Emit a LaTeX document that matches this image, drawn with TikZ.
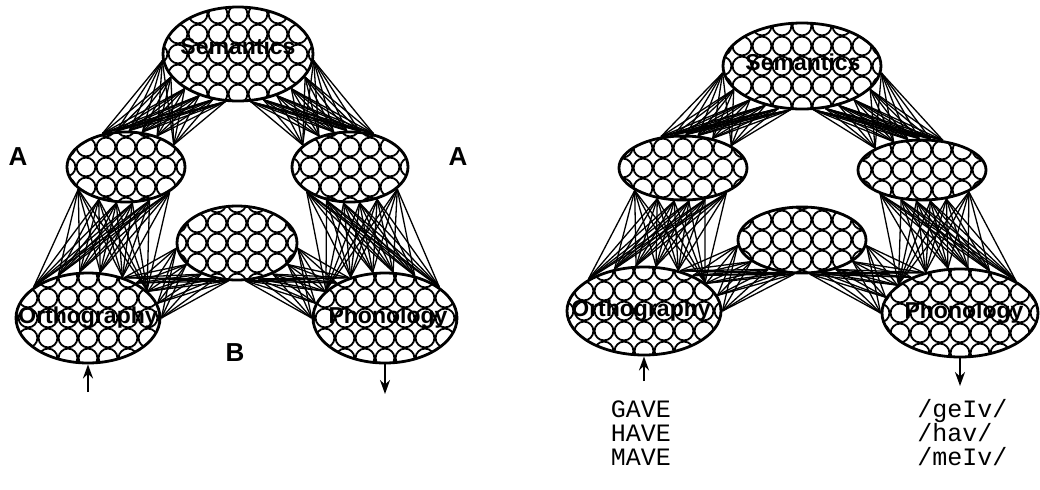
\documentclass[tikz,border=0pt]{standalone}
\usepackage{fontspec}
\setsansfont{Liberation Sans}
\setmonofont{Liberation Mono}
\usetikzlibrary{shapes.geometric,arrows.meta,backgrounds}

\begin{document}
\begin{tikzpicture}[x=0.5pt,y=-0.5pt,
  lay/.style={ellipse,draw,line width=1.4pt,fill=white,inner sep=0pt,
    path picture={\foreach \i in {-4,...,4} \foreach \j in {-3,...,3}
      \draw[line width=0.9pt] ([shift={(\i*10pt,\j*10pt)}]path picture bounding box.center) circle (4.7pt);}},
  w/.style={line width=0.65pt},
  tag/.style={font=\sffamily\bfseries\fontsize{11.5}{12}\selectfont,inner sep=0pt},
  big/.style={font=\sffamily\bfseries\fontsize{13}{14}\selectfont,inner sep=0pt},
  word/.style={font=\ttfamily\fontsize{12.5}{13}\selectfont,inner sep=0pt,anchor=base},
  io/.style={line width=1.1pt,-{Stealth[length=7pt,width=5pt]}}]
  \useasboundingbox (0,0) rectangle (1040,489);
  % left network, with the labels A and B
  \node[lay,minimum width=75pt,minimum height=47pt] (Lsem) at (238,54) {};
  \node[lay,minimum width=59pt,minimum height=35pt] (Lhl) at (126,167) {};
  \node[lay,minimum width=58pt,minimum height=35pt] (Lhr) at (350,167) {};
  \node[lay,minimum width=60pt,minimum height=37pt] (Lmid) at (237,243) {};
  \node[lay,minimum width=72pt,minimum height=45pt] (Lor) at (88,318) {};
  \node[lay,minimum width=72pt,minimum height=45pt] (Lph) at (385,318) {};
  \node[tag] (Lsem-t) at (238,46) {Semantics};
  \node[tag] (Lor-t) at (88,318) {Orthography};
  \node[tag] (Lph-t) at (388,318) {Phonology};
  \coordinate (Lin) at (88,392); \coordinate (Lout) at (385,394);
  \draw[io] (Lin) -- (Lor.south); \draw[io] (Lph.south) -- (Lout);
  \node[big] (A1) at (18,157) {A};
  \node[big] (A2) at (458,157) {A};
  \node[big] (B) at (235,353) {B};
  % right network, with the words under it
  \node[lay,minimum width=79pt,minimum height=43pt] (Rsem) at (802,66) {};
  \node[lay,minimum width=64pt,minimum height=32pt] (Rhl) at (683,168) {};
  \node[lay,minimum width=64pt,minimum height=30pt] (Rhr) at (922,170) {};
  \node[lay,minimum width=64pt,minimum height=33pt] (Rmid) at (802,240) {};
  \node[lay,minimum width=77pt,minimum height=44pt] (Ror) at (644,311) {};
  \node[lay,minimum width=78pt,minimum height=44pt] (Rph) at (960,313) {};
  \node[tag] (Rsem-t) at (803,62) {Semantics};
  \node[tag] (Ror-t) at (641,311) {Orthography};
  \node[tag] (Rph-t) at (964,313) {Phonology};
  \coordinate (Rin) at (644,381); \coordinate (Rout) at (960,386);
  \draw[io] (Rin) -- (Ror.south); \draw[io] (Rph.south) -- (Rout);
  \node[word] (g1) at (641,417) {GAVE};
  \node[word] (g2) at (641,441) {HAVE};
  \node[word] (g3) at (641,465) {MAVE};
  \node[word,anchor=base west] (p1) at (917,417) {/geIv/};
  \node[word,anchor=base west] (p2) at (917,441) {/hav/};
  \node[word,anchor=base west] (p3) at (917,465) {/meIv/};
  % all-to-all wiring between the layers
  \begin{scope}[on background layer]
    \foreach \n in {L,R}
      \foreach \p/\q/\as/\bs in {sem/hl/{185,199,213,227,241,255}/{25,45,65,85,105,125},
          sem/hr/{355,341,327,313,299,285}/{155,135,115,95,75,55},
          hl/or/{205,230,255,280,305,330}/{25,50,75,100,125,150},
          hr/ph/{335,310,285,260,235,210}/{155,130,105,80,55,30},
          mid/or/{185,203,221,239,257}/{0,12,24,36,48},
          mid/ph/{355,337,319,301,283}/{180,168,156,144,132}}
        \foreach \a in \as \foreach \b in \bs \draw[w] (\n\p.\a) -- (\n\q.\b);
  \end{scope}
\end{tikzpicture}
\end{document}
